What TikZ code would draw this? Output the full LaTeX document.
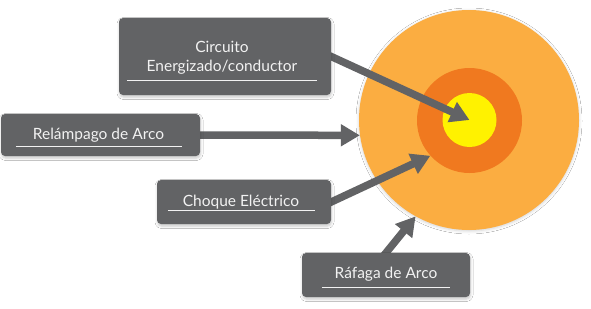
\documentclass[tikz,border=0pt]{standalone}
\usepackage{fontspec}
\setmainfont{Lato}
\usetikzlibrary{arrows.meta,shadows.blur,calc}
\definecolor{boxgray}{HTML}{626365}
\definecolor{outerc}{HTML}{FBAD41}
\definecolor{midc}{HTML}{F0791F}
\definecolor{innerc}{HTML}{FFF200}
\definecolor{txtc}{HTML}{F2F2F2}
\pgfdeclarelayer{bg}
\pgfdeclarelayer{mid}
\pgfsetlayers{bg,mid,main}
\tikzset{
  graybox/.style={draw=none, fill=boxgray, rounded corners=4pt, inner sep=0pt,
    blur shadow={shadow xshift=0.5pt, shadow yshift=-2pt, shadow blur radius=2.5pt, shadow opacity=22}},
  lbl/.style={text=txtc, font=\fontsize{15.5}{18}\selectfont, anchor=base, inner sep=0pt},
  uline/.style={draw=txtc, line width=1.4pt},
  arr/.style={draw=boxgray, line width=7.5pt, -{Triangle[width=21pt,length=19pt]}},
  disc/.style={circle, inner sep=0pt, draw=none}
}
\begin{document}
\begin{tikzpicture}[x=1pt,y=-1pt]
\useasboundingbox (0,0) rectangle (591,308);
% boxes
\node[graybox, minimum width=212pt, minimum height=77pt] (box1) at (225,56.5) {};
\node[graybox, minimum width=199pt, minimum height=42pt] (box2) at (100.5,135) {};
\node[graybox, minimum width=174pt, minimum height=44pt] (box3) at (244,202) {};
\node[graybox, minimum width=168pt, minimum height=44pt] (box4) at (386,275) {};
% labels
\node[lbl] (t1a) at (222,52) {Circuito};
\node[lbl] (t1b) at (222,71) {Energizado/conductor};
\node[lbl] (t2) at (98.5,139) {Relámpago de Arco};
\node[lbl] (t3) at (241,206) {Choque Eléctrico};
\node[lbl] (t4) at (386,278) {Ráfaga de Arco};
% underlines
\draw[uline] ($(box1.south west)+(8,-15)$) -- ($(box1.south east)+(-14,-15)$);
\draw[uline] ($(box2.south west)+(15,-10)$) -- ($(box2.south east)+(-18,-10)$);
\draw[uline] ($(box3.south west)+(11,-14)$) -- ($(box3.south east)+(-16,-14)$);
\draw[uline] ($(box4.south west)+(20,-10)$) -- ($(box4.south east)+(-20,-10)$);
% circles
\begin{pgfonlayer}{bg}
\fill[white] (0,0) rectangle (591,308);
\node[disc, fill=outerc, minimum size=220pt,
  blur shadow={shadow xshift=0pt, shadow yshift=-1pt, shadow blur radius=3pt, shadow opacity=18}] (outer) at (469,120) {};
\node[disc, fill=midc, minimum size=105pt] (orange) at (469.5,120.5) {};
\node[disc, fill=innerc, minimum size=54pt] (yellow) at (469.5,120) {};
\end{pgfonlayer}
% arrows
\begin{pgfonlayer}{mid}
\draw[arr, shorten <=-6pt] (box1.east) -- (yellow.center);
\draw[arr, shorten <=-6pt] (box2.east) -- (outer.188.4);
\draw[arr, shorten <=-6pt] (box3.east) -- (orange.222.6);
\draw[arr, shorten <=-6pt] (box4.north) -- (outer.241.3);
\end{pgfonlayer}
\end{tikzpicture}
\end{document}
